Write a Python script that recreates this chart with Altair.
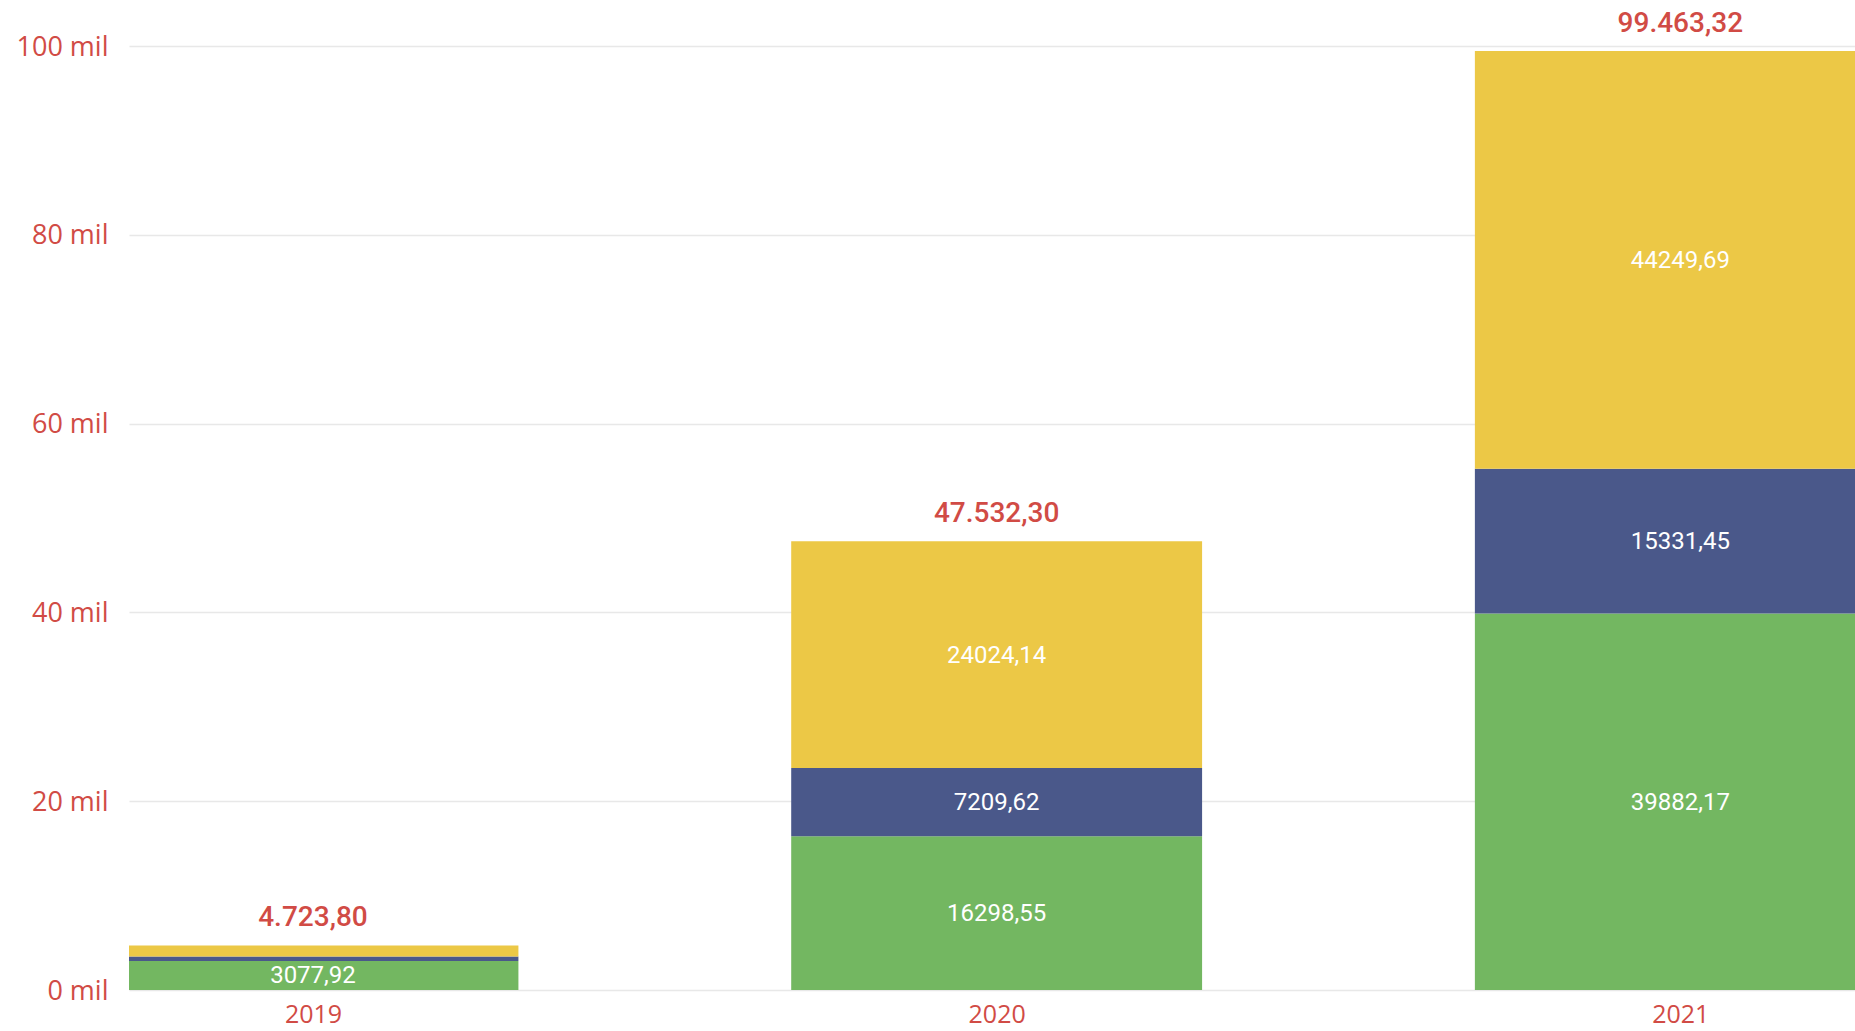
import altair as alt
import pandas as pd

years = [2019, 2020, 2021]
series = ["Série 1", "Série 2", "Série 3"]
green_vals = [3077.92, 16298.548, 39882.172]
navy_vals = [460.00, 7209.618, 15331.454]
yellow_vals = [1185.88, 24024.136, 44249.694]
colors = ["#73B761", "#4A588A", "#ECC846"]
y_ticks = [0, 20000, 40000, 60000, 80000, 100000]

rows = []
for i, yr in enumerate(years):
    for k, (name, vals) in enumerate(zip(series, [green_vals, navy_vals, yellow_vals])):
        rows.append({"ano": yr, "serie": name, "ordem": k, "valor": vals[i]})
df = pd.DataFrame(rows)

RED = "#D14B45"
xscale = alt.Scale(domain=[2018.7309, 2021.2555], nice=False, zero=False)
yscale = alt.Scale(domain=[0, 100000], nice=False)

x_axis = alt.Axis(values=years, format="d", title=None, grid=False, domain=False,
                  ticks=False, tickSize=0, labelPadding=12, labelColor=RED,
                  labelFont="Open Sans", labelFontSize=25)
y_axis = alt.Axis(values=y_ticks, labelExpr="datum.value / 1000 + ' mil'", title=None,
                  domain=False, ticks=False, tickSize=0, labelPadding=21, grid=True,
                  gridColor="#E8E8E8", gridWidth=1.5, labelColor=RED,
                  labelFont="Open Sans", labelFontSize=27, labelOffset=1)

base = alt.Chart(df).transform_stack(
    stack="valor", groupby=["ano"], sort=[alt.SortField("ordem")], as_=["v0", "v1"]
).transform_calculate(
    xa="datum.ano - 0.3005", xb="datum.ano + 0.3005", mid="(datum.v0 + datum.v1) / 2"
)

bars = base.mark_bar(clip=True).encode(
    x=alt.X("xa:Q", scale=xscale, axis=x_axis),
    x2="xb:Q",
    y=alt.Y("v0:Q", scale=yscale, axis=y_axis),
    y2="v1:Q",
    color=alt.Color("serie:N", scale=alt.Scale(domain=series, range=colors), legend=None),
)

inner = base.transform_filter("datum.valor > 2000").mark_text(
    font="Roboto", fontSize=24, color="white", baseline="middle", dy=1
).encode(
    x=alt.X("ano:Q", scale=xscale, axis=x_axis),
    y=alt.Y("mid:Q", scale=yscale, axis=y_axis),
    text=alt.Text("valor:Q", format=".2f"),
)

totals = alt.Chart(df).transform_aggregate(
    total="sum(valor)", groupby=["ano"]
).mark_text(
    font="Roboto", fontSize=28, fontWeight=500, color=RED, baseline="alphabetic", dy=-19
).encode(
    x=alt.X("ano:Q", scale=xscale, axis=x_axis),
    y=alt.Y("total:Q", scale=yscale, axis=y_axis),
    text=alt.Text("total:Q", format=",.2f"),
)

chart = alt.layer(bars, inner, totals).properties(
    width=1726, height=944, autosize="none",
    padding={"left": 129, "top": 46, "right": 0, "bottom": 41},
).configure(
    locale={"number": {"decimal": ",", "thousands": ".", "grouping": [3], "currency": ["R$ ", ""]}}
).configure_view(stroke=None)

chart.save("out.html", embed_options={"renderer": "svg", "actions": False})
